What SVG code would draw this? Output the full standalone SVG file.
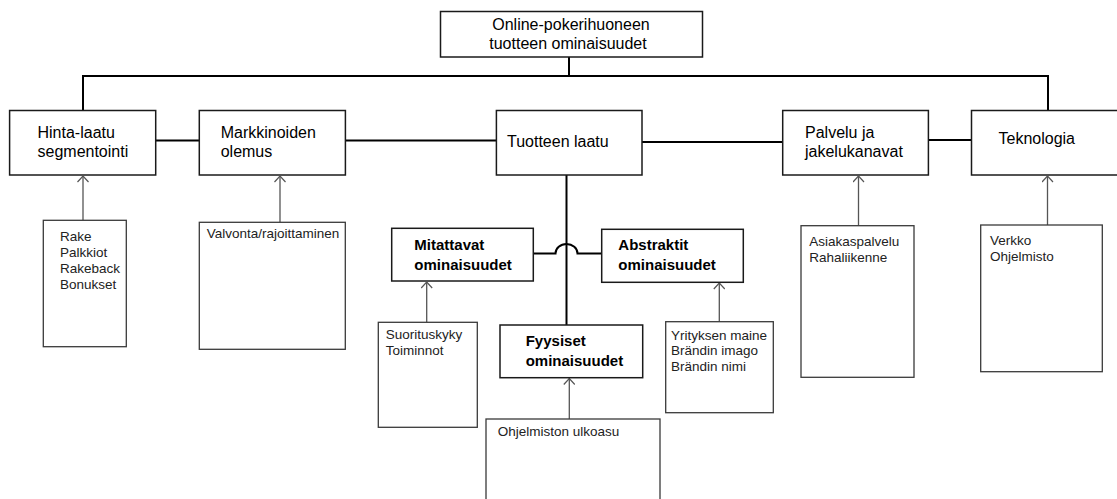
<svg xmlns="http://www.w3.org/2000/svg" width="1117" height="499" viewBox="0 0 1117 499">
<style>
.box{fill:#fff;stroke:#1a1a1a;stroke-width:1.5}
.leaf{fill:#fff;stroke:#3a3a3a;stroke-width:1.3}
.bus{fill:none;stroke:#000;stroke-width:2}
.arr{fill:none;stroke:#555;stroke-width:1.3}
.t1{font-family:"Liberation Sans",Arial,sans-serif;font-size:16px;fill:#000}
.t2{font-family:"Liberation Sans",Arial,sans-serif;font-size:15px;font-weight:bold;fill:#000}
.t3{font-family:"Liberation Sans",Arial,sans-serif;font-size:13.5px;fill:#222}
</style>
<defs>
<marker id="ah" viewBox="0 0 12 8" refX="6" refY="0.5" markerWidth="12" markerHeight="8" markerUnits="userSpaceOnUse" orient="0">
<path d="M0.5,6.5 L6,0.5 L11.5,6.5" fill="none" stroke="#555" stroke-width="1.2"/>
</marker>
</defs>
<g id="connectors">
<path class="bus" d="M569,57 V76 M83,110.5 V76 H1048 V110.5"/>
<path class="bus" d="M155.7,140.5 H199.3 M345.4,140.5 H496.4 M642,142 H782.7 M928.4,140 H971.5"/>
<path class="bus" d="M566.5,175 V325"/>
<path class="bus" d="M533.3,253.5 H555.5 A11,9.5 0 0 1 577.5,253.5 H601.7"/>
<line class="arr" x1="83" y1="220.3" x2="83" y2="176" marker-end="url(#ah)"/>
<line class="arr" x1="280" y1="222.3" x2="280" y2="176" marker-end="url(#ah)"/>
<line class="arr" x1="858.5" y1="225.7" x2="858.5" y2="176" marker-end="url(#ah)"/>
<line class="arr" x1="1047.5" y1="225" x2="1047.5" y2="176" marker-end="url(#ah)"/>
<line class="arr" x1="426.7" y1="322.3" x2="426.7" y2="282" marker-end="url(#ah)"/>
<line class="arr" x1="569.3" y1="419" x2="569.3" y2="378.5" marker-end="url(#ah)"/>
<line class="arr" x1="719.3" y1="321.7" x2="719.3" y2="283" marker-end="url(#ah)"/>
</g>
<g id="root"><rect class="box" x="440.5" y="11.5" width="262" height="45.5"/>
<text class="t1" x="571" y="30" text-anchor="middle">Online-pokerihuoneen</text>
<text class="t1" x="568" y="49" text-anchor="middle">tuotteen ominaisuudet</text></g>
<g id="hinta"><rect class="box" x="9.6" y="110.5" width="146.1" height="64.5"/>
<text class="t1" x="37.5" y="138">Hinta-laatu</text><text class="t1" x="37.5" y="157">segmentointi</text></g>
<g id="markkinoiden"><rect class="box" x="199.3" y="110.5" width="146.1" height="64.5"/>
<text class="t1" x="220.7" y="138">Markkinoiden</text><text class="t1" x="220.7" y="157">olemus</text></g>
<g id="tuotteen"><rect class="box" x="496.4" y="110.5" width="145.6" height="64.5"/>
<text class="t1" x="507" y="147">Tuotteen laatu</text></g>
<g id="palvelu"><rect class="box" x="782.7" y="110.5" width="145.7" height="64.5"/>
<text class="t1" x="805" y="138">Palvelu ja</text><text class="t1" x="805" y="157">jakelukanavat</text></g>
<g id="teknologia"><rect class="box" x="971.5" y="110.5" width="150" height="64.5"/>
<text class="t1" x="998.5" y="144">Teknologia</text></g>
<g id="mitattavat"><rect class="box" x="391.7" y="228.3" width="141.6" height="52.7"/>
<text class="t2" x="414.3" y="250">Mitattavat</text><text class="t2" x="414.3" y="269.5">ominaisuudet</text></g>
<g id="abstraktit"><rect class="box" x="601.7" y="229.3" width="141.6" height="53"/>
<text class="t2" x="618.3" y="250">Abstraktit</text><text class="t2" x="618.3" y="270">ominaisuudet</text></g>
<g id="fyysiset"><rect class="box" x="500" y="325" width="142.7" height="52.7"/>
<text class="t2" x="525.7" y="346">Fyysiset</text><text class="t2" x="525.7" y="366">ominaisuudet</text></g>
<g id="rake"><rect class="leaf" x="43.3" y="220.3" width="83" height="126.4"/>
<text class="t3" x="60" y="241">Rake</text><text class="t3" x="60" y="257">Palkkiot</text><text class="t3" x="60" y="273">Rakeback</text><text class="t3" x="60" y="289">Bonukset</text></g>
<g id="valvonta"><rect class="leaf" x="199.3" y="222.3" width="146" height="127"/>
<text class="t3" x="206.7" y="238.3">Valvonta/rajoittaminen</text></g>
<g id="suorituskyky"><rect class="leaf" x="378.3" y="322.3" width="99" height="105"/>
<text class="t3" x="385.7" y="339.3">Suorituskyky</text><text class="t3" x="385.7" y="355">Toiminnot</text></g>
<g id="ohjelmiston"><rect class="leaf" x="486" y="419" width="174" height="90"/>
<text class="t3" x="497.7" y="436">Ohjelmiston ulkoasu</text></g>
<g id="yrityksen"><rect class="leaf" x="665.7" y="321.7" width="107.6" height="91"/>
<text class="t3" x="671" y="339.5">Yrityksen maine</text><text class="t3" x="671" y="355">Brändin imago</text><text class="t3" x="671" y="370.5">Brändin nimi</text></g>
<g id="asiakaspalvelu"><rect class="leaf" x="801" y="225.7" width="113" height="151.6"/>
<text class="t3" x="809.3" y="245.7">Asiakaspalvelu</text><text class="t3" x="809.3" y="261.7">Rahaliikenne</text></g>
<g id="verkko"><rect class="leaf" x="980.7" y="225" width="121.6" height="146.7"/>
<text class="t3" x="990" y="245">Verkko</text><text class="t3" x="990" y="261">Ohjelmisto</text></g>
</svg>
